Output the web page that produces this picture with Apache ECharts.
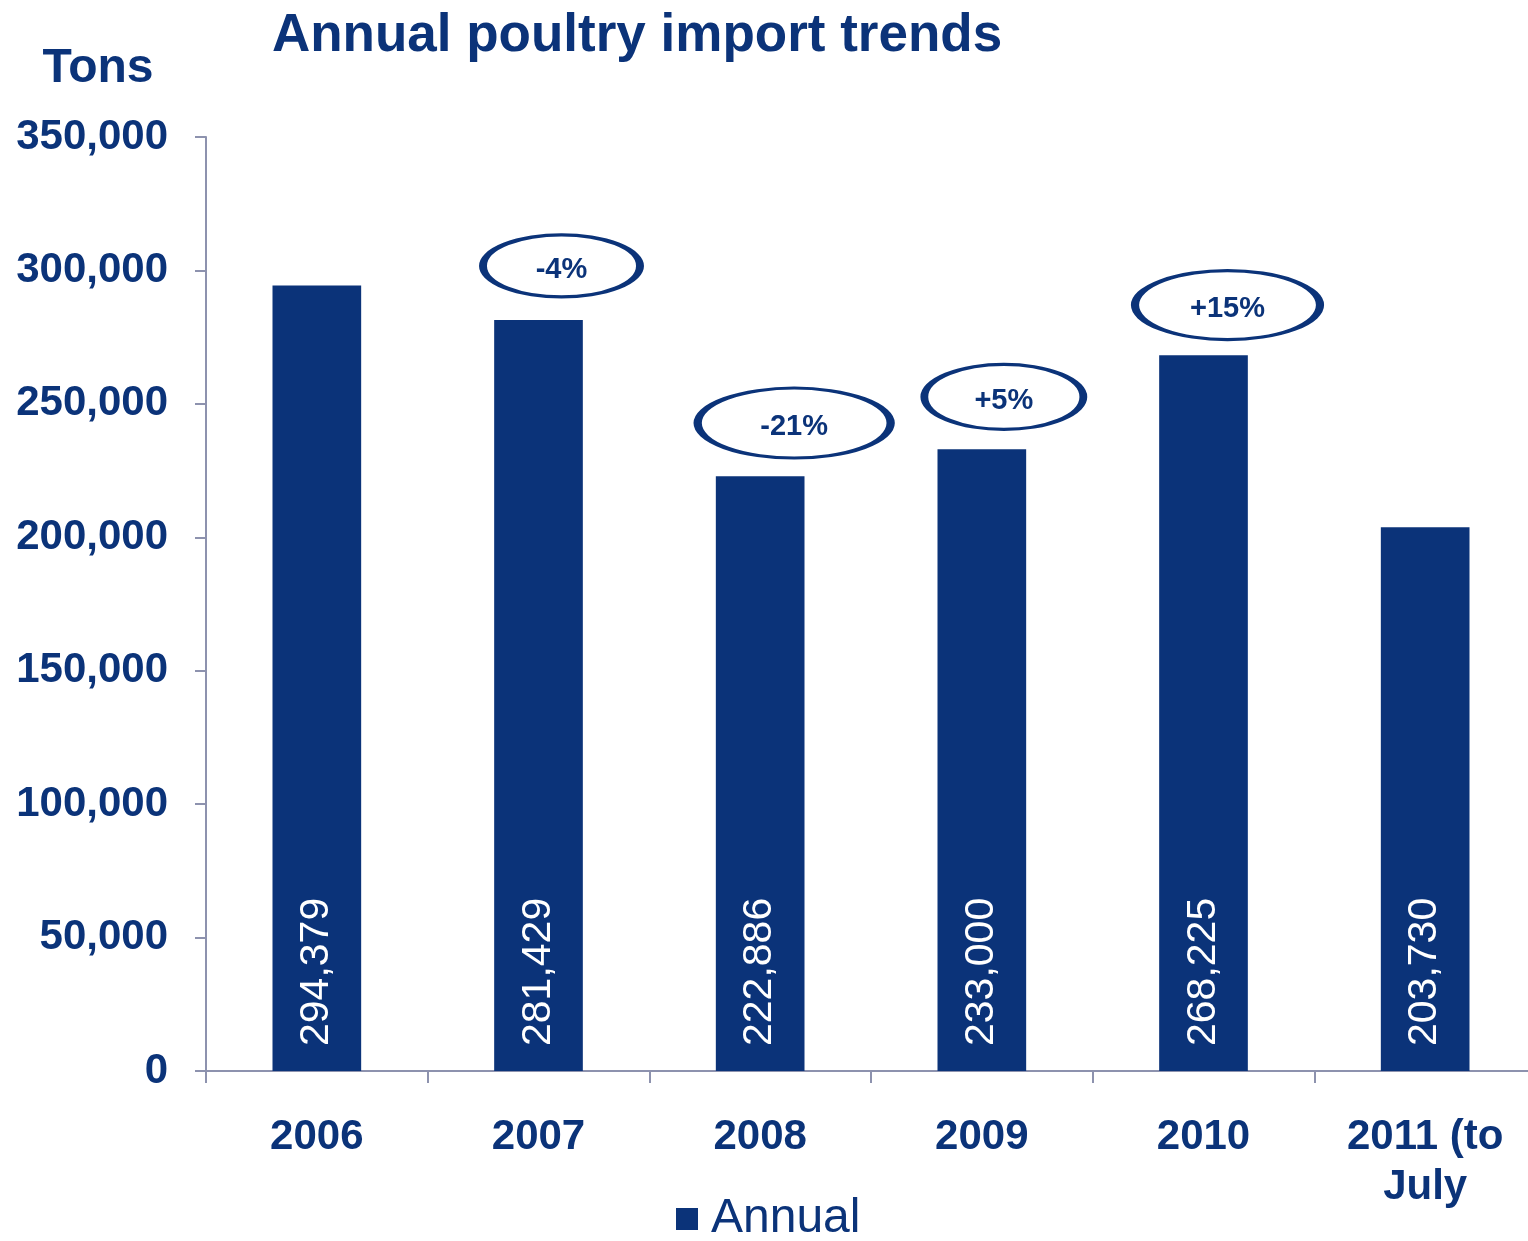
<!DOCTYPE html>
<html>
<head>
<meta charset="utf-8">
<title>Annual poultry import trends</title>
<script src="https://cdn.jsdelivr.net/npm/echarts@6/dist/echarts.min.js"></script>
<style>
  html, body { margin: 0; padding: 0; background: #ffffff; overflow: hidden; }
  /* canvas runs a few pixels past the right edge so the last category is cut like the slide */
  #chart { width: 1540px; height: 1241px; }
</style>
</head>
<body>
<div id="chart"></div>
<script>
// Import volumes by year (tons)
const years = ['2006', '2007', '2008', '2009', '2010', '2011 (to\nJuly'];
const annualTons = [294379, 281429, 222886, 233000, 268225, 203730];

// Year-on-year change callouts: category, label, vertical placement (tons), horizontal nudge, ellipse size
const changeYears = ['2007', '2008', '2009', '2010'];
const changeLabels = ['-4%', '-21%', '+5%', '+15%'];
const changeLevels = [301700, 242800, 252600, 287000];
const changeNudge = [23, 34, 22, 24];
const changeSizes = [[157, 62], [193, 70], [159, 65], [185, 69]];

// Axis ticks
const yMin = 0, yMax = 350000, yStep = 50000;

const NAVY = '#0b3379';
const AXIS = '#8d92ae';
const FONT = "'Liberation Sans', Arial, sans-serif";

const chart = echarts.init(document.getElementById('chart'), null, { renderer: 'canvas' });

const callouts = changeYears.map((y, i) => ({
  value: [y, changeLevels[i]],
  name: changeLabels[i],
  symbolSize: changeSizes[i],
  symbolOffset: [changeNudge[i], 0]
}));

chart.setOption({
  animation: false,
  backgroundColor: '#ffffff',
  textStyle: { fontFamily: FONT },
  title: [
    {
      text: 'Annual poultry import trends',
      left: 632, top: 5, textAlign: 'center',
      textStyle: { fontFamily: FONT, fontSize: 53, fontWeight: 'bold', color: NAVY }
    },
    {
      text: 'Tons',
      left: 93, top: 40, textAlign: 'center',
      textStyle: { fontFamily: FONT, fontSize: 48, fontWeight: 'bold', color: NAVY }
    }
  ],
  legend: {
    data: ['Annual'],
    left: 676, top: 1195,
    padding: 0,
    icon: 'rect',
    itemWidth: 22, itemHeight: 22,
    textStyle: { fontFamily: FONT, fontSize: 48, color: NAVY, padding: [0, 0, 0, 8] }
  },
  grid: { left: 206, top: 137, width: 1330, height: 934, containLabel: false },
  xAxis: {
    type: 'category',
    data: years,
    boundaryGap: true,
    axisLine: { lineStyle: { color: AXIS, width: 2 } },
    axisTick: { show: true, length: 12, lineStyle: { color: AXIS, width: 2 } },
    axisLabel: {
      interval: 0, margin: 41,
      fontFamily: FONT, fontSize: 42, fontWeight: 'bold', color: NAVY, lineHeight: 50
    },
    splitLine: { show: false }
  },
  yAxis: {
    type: 'value',
    min: yMin, max: yMax, interval: yStep,
    axisLine: { show: true, lineStyle: { color: AXIS, width: 2 } },
    axisTick: { show: true, length: 11, lineStyle: { color: AXIS, width: 2 } },
    axisLabel: {
      margin: 38,
      fontFamily: FONT, fontSize: 42, fontWeight: 'bold', color: NAVY,
      formatter: v => v.toLocaleString('en-US')
    },
    splitLine: { show: false }
  },
  series: [
    {
      name: 'Annual',
      type: 'bar',
      data: annualTons,
      barWidth: '40%',
      itemStyle: { color: NAVY },
      label: {
        show: true,
        position: 'insideBottom',
        rotate: 90,
        align: 'left',
        verticalAlign: 'middle',
        distance: 25,
        fontFamily: FONT, fontSize: 41, color: '#ffffff',
        formatter: p => p.value.toLocaleString('en-US')
      }
    },
    {
      name: 'Change',
      type: 'scatter',
      symbol: 'circle',
      data: callouts,
      z: 5,
      itemStyle: { color: '#ffffff', borderColor: NAVY, borderWidth: 5, opacity: 1 },
      label: {
        show: true,
        position: 'inside',
        offset: [0, 4],
        fontFamily: FONT, fontSize: 29, fontWeight: 'bold', color: NAVY,
        formatter: p => p.name
      },
      emphasis: { disabled: true }
    }
  ]
});
</script>
</body>
</html>
